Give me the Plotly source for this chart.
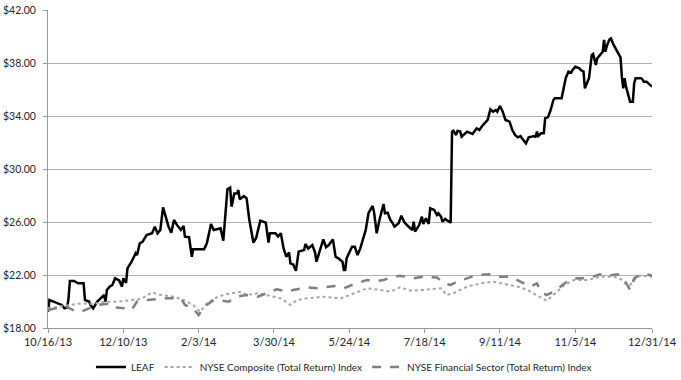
import pandas as pd
import plotly.graph_objects as go

START = "2013-10-16"

# LEAF share price (day offset from 10/16/13, close $)
leaf_day = [0, 1, 4, 7, 10, 12, 14, 15, 16, 19, 22, 26, 27, 30, 31, 33, 36, 38, 41, 42, 43,
            45, 47, 49, 52, 54, 55, 57, 58, 61, 64, 65, 67, 69, 72, 76, 78, 80, 82, 84, 86,
            88, 90, 92, 94, 97, 99, 100, 103, 105, 106, 114, 116, 119, 121, 126, 128, 129,
            131, 133, 134, 136, 138, 139, 140, 143, 145, 147, 150, 152, 154, 155, 159, 160,
            161, 162, 166, 168, 170, 172, 174, 176, 177, 179, 181, 183, 187, 188, 190, 193,
            195, 196, 198, 201, 203, 205, 208, 210, 212, 215, 216, 217, 218, 222, 224, 226,
            228, 232, 234, 237, 238, 240, 242, 245, 246, 248, 250, 251, 253, 256, 258, 260,
            262, 266, 267, 268, 271, 272, 273, 274, 276, 278, 279, 282, 284, 285, 287, 288,
            290, 291, 294, 295, 296, 298, 299, 301, 302, 306, 309, 310, 313, 315, 317, 321,
            323, 325, 327, 328, 330, 332, 334, 335, 337, 339, 341, 343, 345, 346, 349, 351,
            355, 356, 357, 358, 360, 362, 363, 365, 367, 369, 370, 373, 375, 378, 380, 382,
            383, 385, 388, 389, 391, 392, 395, 397, 398, 400, 401, 405, 406, 407, 408, 410,
            411, 413, 416, 418, 419, 420, 421, 422, 425, 427, 428, 429, 433, 434, 435, 437, 441]
leaf_val = [19.23, 20.11, 19.99, 19.86, 19.74, 19.49, 19.55, 20.24, 21.55, 21.55, 21.37, 21.37,
            20.11, 20.0, 19.74, 19.49, 19.99, 20.2, 20.49, 19.99, 20.87, 21.12, 21.25, 21.75,
            21.6, 21.12, 21.75, 21.4, 22.50, 23.0, 23.64, 23.5, 24.39, 24.5, 25.02, 25.15,
            25.65, 25.15, 25.4, 27.11, 26.28, 25.65, 25.19, 26.15, 25.8, 25.4, 25.7, 24.89,
            24.85, 23.38, 23.94, 23.94, 24.39, 25.85, 25.4, 25.52, 24.59, 26.15, 28.47, 28.59,
            27.16, 28.16, 28.16, 28.41, 27.71, 27.96, 27.8, 26.15, 24.44, 24.8, 25.85, 26.1,
            25.95, 25.15, 24.44, 25.15, 25.15, 24.9, 25.15, 24.01, 23.38, 23.7, 22.88, 22.8,
            22.32, 23.76, 23.89, 24.34, 24.0, 24.26, 23.7, 23.0, 23.76, 24.69, 24.1, 24.26,
            24.69, 23.38, 23.26, 23.0, 22.38, 22.38, 23.26, 24.14, 24.14, 23.51, 24.01, 25.40,
            26.66, 27.21, 26.78, 25.15, 26.15, 27.36, 26.66, 26.70, 26.15, 26.02, 25.65, 25.90,
            26.48, 26.02, 25.77, 25.4, 26.02, 25.27, 25.77, 26.02, 26.40, 25.85, 26.28, 25.85,
            27.03, 26.91, 26.53, 26.66, 26.4, 26.02, 26.23, 26.15, 25.95, 32.82, 32.89, 32.57,
            32.87, 32.82, 32.44, 32.82, 32.69, 32.64, 33.07, 32.94, 33.25, 33.70, 34.51, 34.33,
            34.45, 34.33, 34.76, 34.33, 33.70, 33.65, 33.57, 32.94, 32.57, 32.39, 32.49, 32.32,
            31.94, 32.39, 32.49, 32.39, 32.82, 32.49, 32.69, 32.69, 33.83, 33.90, 34.45, 35.21,
            35.34, 35.34, 35.34, 36.85, 37.35, 37.27, 37.47, 37.72, 37.60, 37.47, 37.35, 36.09,
            36.85, 38.60, 38.68, 37.85, 38.35, 38.85, 39.74, 38.85, 39.28, 39.79, 39.86, 39.36,
            38.85, 38.43, 36.97, 36.09, 36.85, 36.22, 35.08, 35.08, 36.47, 36.85, 36.85, 36.77,
            36.59, 36.59, 36.22]

# NYSE Composite (Total Return) Index, rebased
comp_day = [0, 16, 24, 33, 41, 51, 58, 68, 76, 82, 92, 99, 106, 111, 116, 124, 131, 141, 145,
            153, 165, 170, 177, 182, 189, 201, 214, 223, 233, 243, 250, 257, 265, 274, 287,
            291, 296, 306, 316, 325, 335, 343, 350, 357, 364, 369, 377, 384, 394, 403, 413,
            420, 425, 428, 432, 441]
comp_val = [19.49, 19.74, 19.86, 19.81, 19.99, 19.99, 20.06, 20.19, 20.69, 20.5, 20.36, 20.11,
            19.74, 19.23, 19.86, 20.36, 20.57, 20.74, 20.49, 20.62, 20.36, 20.24, 19.74, 20.11,
            20.24, 20.36, 20.24, 20.62, 21.0, 20.87, 20.74, 21.07, 20.82, 20.87, 21.0, 20.49,
            20.62, 21.12, 21.37, 21.50, 21.32, 21.12, 20.87, 20.49, 20.06, 20.49, 21.25, 21.62,
            21.62, 21.87, 21.87, 21.62, 21.25, 21.62, 21.95, 21.87]

# NYSE Financial Sector (Total Return) Index, rebased
fin_day = [0, 9, 14, 19, 24, 31, 36, 42, 47, 49, 55, 61, 65, 72, 80, 87, 97, 100, 106, 110,
           114, 121, 127, 132, 138, 145, 153, 160, 167, 175, 179, 189, 197, 201, 209, 216,
           225, 233, 240, 245, 250, 257, 267, 274, 284, 289, 294, 299, 306, 313, 323, 330,
           338, 345, 352, 357, 360, 364, 369, 374, 379, 386, 394, 403, 408, 416, 419, 423,
           425, 428, 432, 437, 441]
fin_val = [19.36, 19.56, 19.6, 19.31, 19.23, 19.56, 19.74, 19.81, 19.81, 19.56, 19.5, 19.36,
           19.99, 20.11, 20.16, 20.24, 20.24, 19.74, 19.49, 18.98, 19.61, 20.11, 20.06, 19.99,
           20.36, 20.49, 20.36, 20.67, 20.92, 20.74, 20.87, 21.07, 21.0, 21.07, 21.17, 21.0,
           21.37, 21.62, 21.55, 21.62, 21.80, 21.95, 21.75, 21.87, 21.82, 21.37, 21.25, 21.50,
           21.75, 22.0, 22.05, 21.87, 21.87, 21.50, 21.12, 21.37, 20.74, 20.49, 20.74, 21.12,
           21.50, 21.75, 21.75, 22.05, 21.95, 22.05, 21.62, 21.25, 20.87, 21.75, 22.0, 22.05,
           21.95]

tick_dates = ["2013-10-16", "2013-12-10", "2014-02-03", "2014-03-30", "2014-05-24",
              "2014-07-18", "2014-09-11", "2014-11-05", "2014-12-31"]
tick_labels = ["10/16/13", "12/10/13", "2/3/14", "3/30/14", "5/24/14",
               "7/18/14", "9/11/14", "11/5/14", "12/31/14"]


def to_dates(days):
    return pd.Timestamp(START) + pd.to_timedelta(days, unit="D")


FONT = "Lato"
TXT = "#262626"

fig = go.Figure()
fig.add_trace(go.Scatter(x=to_dates(leaf_day), y=leaf_val, mode="lines", name="LEAF",
                         line=dict(color="#000000", width=2.5)))
fig.add_trace(go.Scatter(x=to_dates(comp_day), y=comp_val, mode="lines",
                         name="NYSE Composite (Total Return) Index",
                         line=dict(color="#a6a6a6", width=2, dash="dot")))
fig.add_trace(go.Scatter(x=to_dates(fin_day), y=fin_val, mode="lines",
                         name="NYSE Financial Sector (Total Return) Index",
                         line=dict(color="#808080", width=2.5, dash="dash")))

fig.update_layout(
    width=681, height=380,
    margin=dict(l=48, r=29, t=10, b=52, autoexpand=False),
    paper_bgcolor="white", plot_bgcolor="white",
    font=dict(family=FONT, size=11, color=TXT),
    showlegend=True,
    legend=dict(orientation="h", x=0.49, xanchor="center", y=-0.077, yanchor="top",
                font=dict(family=FONT, size=10, color=TXT), itemwidth=30,
                bgcolor="rgba(0,0,0,0)"),
)
fig.update_xaxes(
    type="date", range=[tick_dates[0], tick_dates[-1]], automargin=False,
    tickmode="array", tickvals=tick_dates, ticktext=tick_labels,
    showgrid=False, showline=True, linecolor="#999999", linewidth=1,
    ticks="outside", ticklen=4, tickcolor="#999999",
    tickfont=dict(family=FONT, size=11, color=TXT), zeroline=False,
)
fig.update_yaxes(
    range=[18, 42], tickmode="linear", tick0=18, dtick=4, automargin=False,
    tickprefix="$", tickformat=".2f", ticklabelstandoff=5,
    showgrid=True, gridcolor="#b3b3b3", gridwidth=1,
    showline=True, linecolor="#999999", linewidth=1,
    ticks="outside", ticklen=4, tickcolor="#999999",
    tickfont=dict(family=FONT, size=10.5, color=TXT), zeroline=False,
)

fig.write_html("out.html", config={"displayModeBar": False},
               post_script="document.body.style.margin='0';document.body.style.overflow='hidden';")
